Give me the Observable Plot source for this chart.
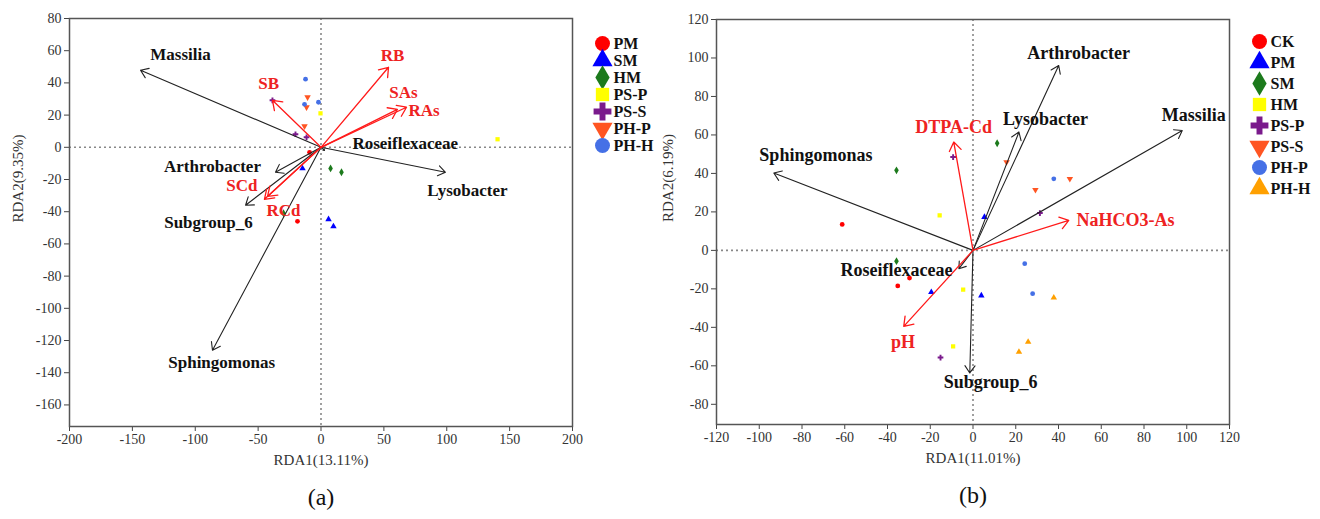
<!DOCTYPE html>
<html><head><meta charset="utf-8">
<script src="https://cdn.jsdelivr.net/npm/d3@7"></script>
<script src="https://cdn.jsdelivr.net/npm/@observablehq/plot@0.6"></script>
<style>
body{margin:0;background:#fff;}
#wrap{position:relative;width:1320px;height:519px;overflow:hidden;font-family:'Liberation Serif',serif;}
#wrap > svg, #wrap > figure{position:absolute;margin:0;}
#wrap svg text{font-family:'Liberation Serif',serif;}
</style></head>
<body><div id="wrap"></div>
<script>
// ---------------- Panel (a) data ----------------
const groupsA = ["PM","SM","HM","PS-P","PS-S","PH-P","PH-H"];
const shapesA = ["circle","triangle","diamond","square","cross","triangleDown","circle"];
const colorsA = ["#ff0000","#0000ff","#1c7a1c","#ffff00","#7a1a8c","#ff5522","#4570e6"];
const samplesA = [
  ["PM",-9.1,-3.1],["PM",-18.7,-46],
  ["SM",-14.7,-13.1],["SM",6,-44.7],["SM",9.9,-49.1],
  ["HM",7.6,-13.1],["HM",16.3,-15.5],["HM",-29.8,-41],
  ["PS-P",-0.4,21.1],["PS-P",140.4,5],
  ["PS-S",-38.6,29.2],["PS-S",-20.3,8.1],["PS-S",-11.5,6.2],
  ["PH-P",-10.7,31.1],["PH-P",-11.5,24.9],["PH-P",-13.1,13.1],
  ["PH-H",-12.3,42.3],["PH-H",-13.1,26.7],["PH-H",-2,28]
];
const speciesA = ["Massilia","Arthrobacter","Subgroup_6","Sphingomonas","Lysobacter","Roseiflexaceae"];
const speciesAx = [-143.5,-36.2,-60,-86.3,99,2.8];
const speciesAy = [47.9,-15.5,-36,-126,-15.5,-1.9];
const speciesALabelX = [-111.7,-86.3,-89.5,-79,116.5,67];
const speciesALabelY = [57.8,-12,-46.6,-133.6,-26.7,2.5];
const envA = ["RB","SAs","RAs","SB","SCd","RCd"];
const envAx = [53.7,60.8,68,-38.6,-42.5,-45];
const envAy = [49.7,23.6,24.9,29.2,-30.5,-32.3];
const envALabelX = [56.9,65.6,82,-41.7,-63,-29.8];
const envALabelY = [57.2,34,22.6,39.8,-24,-39];
const xTicksA = [-200,-150,-100,-50,0,50,100,150,200];
const yTicksA = [80,60,40,20,0,-20,-40,-60,-80,-100,-120,-140,-160];

// ---------------- Panel (b) data ----------------
const groupsB = ["CK","PM","SM","HM","PS-P","PS-S","PH-P","PH-H"];
const shapesB = ["circle","triangle","diamond","square","cross","triangleDown","circle","triangle"];
const colorsB = ["#ff0000","#0000ff","#1c7a1c","#ffff00","#7a1a8c","#ff5522","#4570e6","#ffa000"];
const samplesB = [
  ["CK",-61.2,13.5],["CK",-35.2,-18.5],["CK",-29.7,-14.4],
  ["PM",5.35,17.3],["PM",-19.5,-21.7],["PM",3.9,-23.5],
  ["SM",11.3,55.7],["SM",-35.8,41.6],["SM",-35.8,-5.6],
  ["HM",-15.6,18.2],["HM",-4.6,-20.4],["HM",-9.3,-49.9],
  ["PS-P",-9.3,48.5],["PS-P",31.3,19.4],["PS-P",-15.2,-55.7],
  ["PS-S",15.7,45.9],["PS-S",45.3,37.2],["PS-S",29.2,31.5],
  ["PH-P",37.8,37.2],["PH-P",24.2,-6.9],["PH-P",27.9,-22.5],
  ["PH-H",37.8,-24.6],["PH-H",25.8,-47.6],["PH-H",21.5,-52.8]
];
const speciesB = ["Sphingomonas","Arthrobacter","Lysobacter","Massilia","Roseiflexaceae","Subgroup_6"];
const speciesBx = [-93.2,40.1,21.5,97.9,-6.6,-1.5];
const speciesBy = [40.2,96.1,61.5,62.3,-9.5,-63.7];
const speciesBLabelX = [-73.5,49.4,33.9,103.3,-35.8,8.2];
const speciesBLabelY = [49.4,102.5,68.4,70.1,-10.4,-68.6];
const envB = ["DTPA-Cd","NaHCO3-As","pH"];
const envBx = [-9.0,44.8,-32.4];
const envBy = [56.3,15.6,-39.5];
const envBLabelX = [-9.1,71.4,-32.7];
const envBLabelY = [63.9,15.6,-47.6];
const xTicksB = [-120,-100,-80,-60,-40,-20,0,20,40,60,80,100,120];
const yTicksB = [120,100,80,60,40,20,0,-20,-40,-60,-80];

// ---------------- helpers ----------------
const sqrt3 = Math.sqrt(3);
const symbolTriangleDown = {
  draw(context, size) {
    const y = -Math.sqrt(size / (sqrt3 * 3));
    context.moveTo(0, -y * 2);
    context.lineTo(-sqrt3 * y, y);
    context.lineTo(sqrt3 * y, y);
    context.closePath();
  }
};
const symbolMap = {circle: d3.symbolCircle, triangle: d3.symbolTriangle, diamond: d3.symbolDiamond,
  square: d3.symbolSquare, cross: d3.symbolCross, triangleDown: symbolTriangleDown};

const FONT = "'Liberation Serif', serif";
const RED = "#ff1a1a";
const RED_TEXT = "#ee2222";

function panel(o) {
  const species = o.species.map((name, i) => ({name, x: o.sx[i], y: o.sy[i], lx: o.slx[i], ly: o.sly[i]}));
  const env = o.env.map((name, i) => ({name, x: o.ex[i], y: o.ey[i], lx: o.elx[i], ly: o.ely[i]}));
  const pts = o.samples.map(([g, x, y]) => ({g, x, y}));
  return Plot.plot({
    width: o.width, height: 519,
    marginLeft: o.marginLeft, marginRight: o.marginRight, marginTop: o.marginTop, marginBottom: o.marginBottom,
    style: {fontFamily: FONT, fontSize: "14px", color: "#333", background: "transparent"},
    x: {domain: o.xDomain},
    y: {domain: o.yDomain},
    color: {domain: o.groups, range: o.colors},
    symbol: {domain: o.groups, range: o.shapes.map(s => symbolMap[s])},
    marks: [
      Plot.ruleX([0], {stroke: "#888", strokeDasharray: "2,3", strokeWidth: 1.6}),
      Plot.ruleY([0], {stroke: "#888", strokeDasharray: "2,3", strokeWidth: 1.6}),
      Plot.axisX({ticks: o.xTicks, tickFormat: d => String(d), tickSize: 5, tickPadding: 3, label: null, fontSize: 14, stroke: "#444"}),
      Plot.axisY({ticks: o.yTicks, tickFormat: d => String(d), tickSize: 5, tickPadding: 3, label: null, fontSize: 14, stroke: "#444"}),
      Plot.frame({stroke: "#555", strokeWidth: 1.5}),
      Plot.dot(pts, {x: "x", y: "y", fill: "g", symbol: "g", r: 2.4, stroke: "none"}),
      Plot.arrow(species, {x1: 0, y1: 0, x2: "x", y2: "y", stroke: "#222", strokeWidth: 1.1, headLength: 12, headAngle: 70}),
      Plot.arrow(env, {x1: 0, y1: 0, x2: "x", y2: "y", stroke: RED, strokeWidth: 1.3, headLength: 12, headAngle: 70}),
      Plot.text(species, {x: "lx", y: "ly", text: "name", fill: "#111", fontWeight: "bold", fontSize: o.labelSize, fontFamily: FONT}),
      Plot.text(env, {x: "lx", y: "ly", text: "name", fill: RED_TEXT, fontWeight: "bold", fontSize: o.labelSize, fontFamily: FONT}),
      Plot.text([o.xLabel], {text: d => d, frameAnchor: "bottom", dy: 38, fontSize: 15, fill: "#333", fontFamily: FONT}),
      Plot.text([o.yLabel], {text: d => d, frameAnchor: "left", dx: o.yLabelDx, rotate: -90, fontSize: 15, fill: "#333", fontFamily: FONT}),
      Plot.text([o.tag], {text: d => d, frameAnchor: "bottom", dy: 78, fontSize: 24, fill: "#111", fontFamily: FONT})
    ]
  });
}

function legend(o) {
  return Plot.plot({
    width: 80, height: o.height, margin: 0,
    style: {fontFamily: FONT, background: "transparent"},
    y: {type: "point", padding: 0, domain: o.groups, range: o.yRange, axis: null},
    color: {domain: o.groups, range: o.colors},
    symbol: {domain: o.groups, range: o.shapes.map(s => symbolMap[s])},
    marks: [
      Plot.dot(o.groups, {y: d => d, frameAnchor: "left", dx: 12, r: 7.5, fill: d => d, symbol: d => d, stroke: "none"}),
      Plot.text(o.groups, {y: d => d, text: d => d, frameAnchor: "left", dx: 23, textAnchor: "start", fontWeight: "bold", fontSize: 16, fill: "#111", fontFamily: FONT})
    ]
  });
}

const wrap = document.getElementById("wrap");

const pa = panel({
  width: 600, marginLeft: 69, marginRight: 28, marginTop: 18, marginBottom: 93,
  xDomain: [-200, 200], yDomain: [-173.4, 80], labelSize: 17,
  groups: groupsA, colors: colorsA, shapes: shapesA, samples: samplesA,
  species: speciesA, sx: speciesAx, sy: speciesAy, slx: speciesALabelX, sly: speciesALabelY,
  env: envA, ex: envAx, ey: envAy, elx: envALabelX, ely: envALabelY,
  xTicks: xTicksA, yTicks: yTicksA,
  xLabel: "RDA1(13.11%)", yLabel: "RDA2(9.35%)", yLabelDx: -51, tag: "(a)"
});
pa.style.left = "0px"; pa.style.top = "0px";
wrap.appendChild(pa);

const la = legend({groups: groupsA, colors: colorsA, shapes: shapesA, height: 200, yRange: [40, 147]});
la.style.left = "590px"; la.style.top = "0px";
wrap.appendChild(la);

const pb = panel({
  width: 600, marginLeft: 56, marginRight: 31, marginTop: 19, marginBottom: 95,
  xDomain: [-120, 120], yDomain: [-90.5, 120], labelSize: 18,
  groups: groupsB, colors: colorsB, shapes: shapesB, samples: samplesB,
  species: speciesB, sx: speciesBx, sy: speciesBy, slx: speciesBLabelX, sly: speciesBLabelY,
  env: envB, ex: envBx, ey: envBy, elx: envBLabelX, ely: envBLabelY,
  xTicks: xTicksB, yTicks: yTicksB,
  xLabel: "RDA1(11.01%)", yLabel: "RDA2(6.19%)", yLabelDx: -48, tag: "(b)"
});
pb.style.left = "660px"; pb.style.top = "0px";
wrap.appendChild(pb);

const lb = legend({groups: groupsB, colors: colorsB, shapes: shapesB, height: 210, yRange: [40, 189]});
lb.style.left = "1247px"; lb.style.top = "0px";
wrap.appendChild(lb);
</script>
</body></html>
